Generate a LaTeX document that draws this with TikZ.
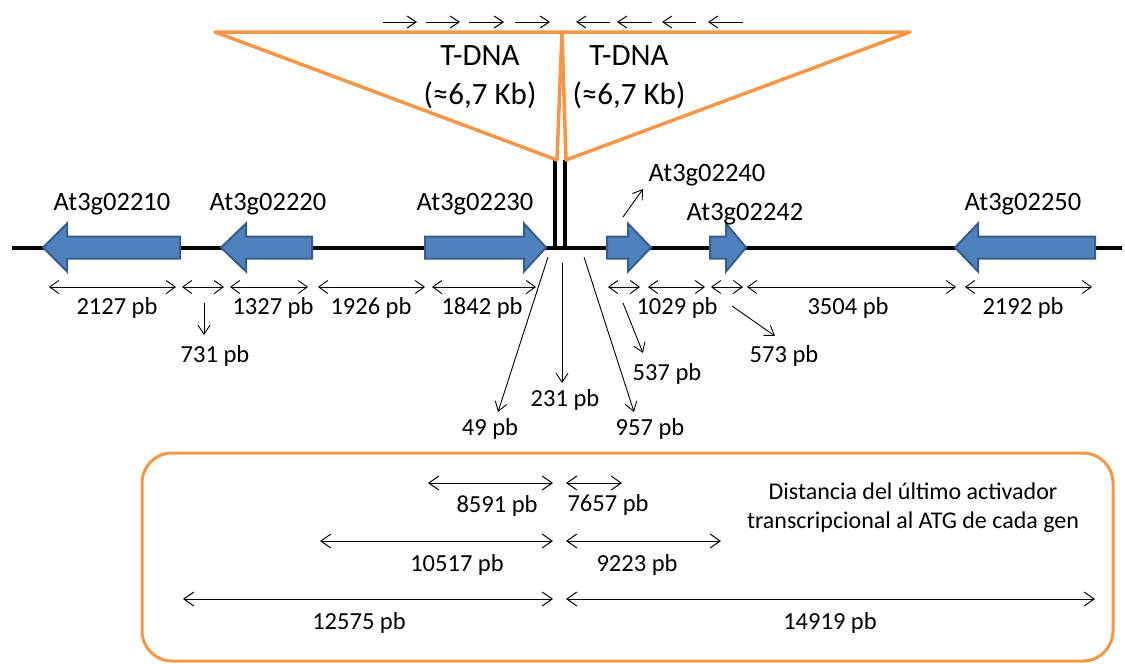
\documentclass[tikz,border=0pt]{standalone}
\usepackage{fontspec}
\setmainfont{Carlito}
\usetikzlibrary{arrows.meta}
\definecolor{geneblue}{HTML}{4F81BD}
\definecolor{geneedge}{HTML}{385D8A}
\definecolor{tdna}{HTML}{F79646}
\newcommand\geneL[4]{% tip, head back, body end, name
  \draw[gene] (#1,247.5) -- (#2,223.5) -- (#2,236.5) -- (#3,236.5) -- (#3,258.5) -- (#2,258.5) -- (#2,271.5) -- cycle;
  \coordinate (#4) at ({(#1+#3)/2},247.5);}
\newcommand\geneR[4]{% body start, head back, tip, name
  \draw[gene] (#3,247.5) -- (#2,223.5) -- (#2,236.5) -- (#1,236.5) -- (#1,258.5) -- (#2,258.5) -- (#2,271.5) -- cycle;
  \coordinate (#4) at ({(#1+#3)/2},247.5);}
\begin{document}
\begin{tikzpicture}[x=1pt,y=-1pt,
  gene/.style={fill=geneblue,draw=geneedge,line width=2pt,line join=miter},
  genelbl/.style={font=\fontsize{26.5}{30}\selectfont,inner sep=0pt},
  tdnalbl/.style={font=\fontsize{31}{39}\selectfont,inner sep=0pt,align=center},
  dimlbl/.style={font=\fontsize{24.5}{28}\selectfont,inner sep=0pt},
  boxlbl/.style={font=\fontsize{24}{29}\selectfont,inner sep=0pt,align=center},
  dimline/.style={{Straight Barb[length=9pt,width=13pt]}-{Straight Barb[length=9pt,width=13pt]},line width=0.9pt},
  boxdim/.style={{Straight Barb[length=10pt,width=14pt]}-{Straight Barb[length=10pt,width=14pt]},line width=1pt},
  ptr/.style={-{Straight Barb[length=9pt,width=12pt]},line width=0.9pt},
  topptr/.style={-{Straight Barb[length=9pt,width=12pt]},line width=1pt},
  tdnaline/.style={draw=tdna,line width=3.5pt,line join=round},
  chrom/.style={line width=4pt},
  frame/.style={draw=tdna,line width=3pt,rounded corners=30pt}]
\useasboundingbox (0,0) rectangle (1125,664);

% chromosome
\coordinate (cL) at (12,247.5);
\coordinate (cR) at (1122,247.5);
\draw[chrom] (cL) -- (cR);

% T-DNA insertion lines
\coordinate (i1t) at (554.5,160);
\coordinate (i1b) at (554.5,249);
\coordinate (i2t) at (564.5,160);
\coordinate (i2b) at (564.5,249);
\draw[chrom] (i1t) -- (i1b);
\draw[chrom] (i2t) -- (i2b);

% T-DNA triangles
\coordinate (tA) at (215,32);
\coordinate (tM) at (562,32);
\coordinate (tB) at (910,32);
\coordinate (tL) at (557,160);
\coordinate (tR) at (566,160);
\draw[tdnaline] (tA) -- (tM) -- (tL) -- cycle;
\draw[tdnaline] (tM) -- (tB) -- (tR) -- cycle;
\node[tdnalbl] (td1) at (480,77) {T-DNA\\(≈6,7 Kb)};
\node[tdnalbl] (td2) at (629,77) {T-DNA\\(≈6,7 Kb)};

% orientation arrows above
\foreach \a/\b [count=\i] in {383/417,426/460,469/504,515/550}{
  \coordinate (ra\i) at (\a,22); \coordinate (rb\i) at (\b,22);
  \draw[topptr] (ra\i) -- (rb\i);}
\foreach \a/\b [count=\i] in {610/576,652/617,696/662,743/708}{
  \coordinate (la\i) at (\a,22); \coordinate (lb\i) at (\b,22);
  \draw[topptr] (la\i) -- (lb\i);}

% genes
\geneL{43}{67}{180}{g10}
\geneL{221}{246}{312}{g20}
\geneR{425}{524}{546}{g30}
\geneR{607}{628}{651}{g40}
\geneR{710}{726}{746}{g42}
\geneL{955}{978}{1095}{g50}

\node[genelbl] (l10) at (112,204) {At3g02210};
\node[genelbl] (l20) at (268,204) {At3g02220};
\node[genelbl] (l30) at (475,204) {At3g02230};
\node[genelbl] (l40) at (707,175) {At3g02240};
\node[genelbl] (l42) at (745,214) {At3g02242};
\node[genelbl] (l50) at (1023,204) {At3g02250};
\coordinate (p40a) at (623,217);
\coordinate (p40b) at (643,189);
\draw[ptr] (p40a) -- (p40b);

% dimension lines along the chromosome
\foreach \a/\b/\n in {49/176/d1,182/224/d2,230/308/d3,318/425/d4,432/536/d5,608/640/d6,648/705/d7,711/743/d8,747/956/d9,965/1092/d10}{
  \coordinate (\n a) at (\a,287); \coordinate (\n b) at (\b,287);
  \draw[dimline] (\n a) -- (\n b);}
\node[dimlbl] (n2127) at (117,308) {2127 pb};
\node[dimlbl] (n1327) at (273,308) {1327 pb};
\node[dimlbl] (n1926) at (371,308) {1926 pb};
\node[dimlbl] (n1842) at (482,308) {1842 pb};
\node[dimlbl] (n1029) at (677,308) {1029 pb};
\node[dimlbl] (n3504) at (848,308) {3504 pb};
\node[dimlbl] (n2192) at (1023,308) {2192 pb};

\node[dimlbl] (n731) at (215,356) {731 pb};
\coordinate (p731a) at (204,303); \coordinate (p731b) at (204,335);
\draw[ptr] (p731a) -- (p731b);
\node[dimlbl] (n537) at (667,374) {537 pb};
\coordinate (p537a) at (623,303); \coordinate (p537b) at (643,353);
\draw[ptr] (p537a) -- (p537b);
\node[dimlbl] (n573) at (784,356) {573 pb};
\coordinate (p573a) at (732,306); \coordinate (p573b) at (775,336);
\draw[ptr] (p573a) -- (p573b);

\node[dimlbl] (n49) at (490,429) {49 pb};
\coordinate (p49a) at (548,257); \coordinate (p49b) at (498,412);
\draw[ptr] (p49a) -- (p49b);
\node[dimlbl] (n231) at (565,400) {231 pb};
\coordinate (p231a) at (562,263); \coordinate (p231b) at (562,383);
\draw[ptr] (p231a) -- (p231b);
\node[dimlbl] (n957) at (650,429) {957 pb};
\coordinate (p957a) at (584,257); \coordinate (p957b) at (634,412);
\draw[ptr] (p957a) -- (p957b);

% bottom box
\coordinate (bx1) at (142,453);
\coordinate (bx2) at (1113,661);
\draw[frame] (bx1) rectangle (bx2);
\foreach \a/\b/\y/\n in {428/553/483/e1,566/622/483/e2,320/553/541/e3,566/721/541/e4,183/553/599/e5,566/1095/599/e6}{
  \coordinate (\n a) at (\a,\y); \coordinate (\n b) at (\b,\y);
  \draw[boxdim] (\n a) -- (\n b);}
\node[dimlbl] (b8591) at (497,506) {8591 pb};
\node[dimlbl] (b7657) at (608,505) {7657 pb};
\node[dimlbl] (b10517) at (457,565) {10517 pb};
\node[dimlbl] (b9223) at (637,565) {9223 pb};
\node[dimlbl] (b12575) at (359,623) {12575 pb};
\node[dimlbl] (b14919) at (830,623) {14919 pb};
\node[boxlbl] (btxt) at (913,508) {Distancia del último activador\\transcripcional al ATG de cada gen};
\end{tikzpicture}
\end{document}
